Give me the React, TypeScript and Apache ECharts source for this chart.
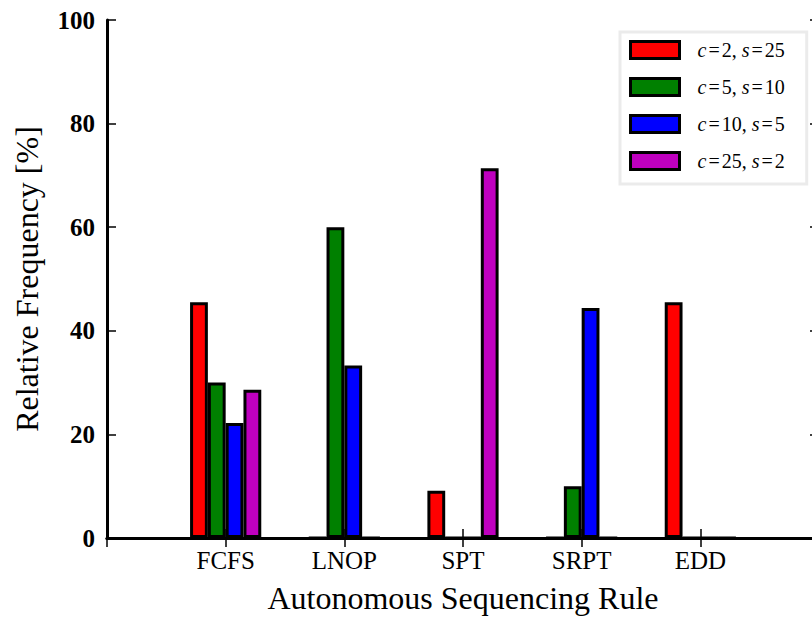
import React, { useEffect, useRef } from "react";
import * as echarts from "echarts";

const categories = ["FCFS", "LNOP", "SPT", "SRPT", "EDD"];
const seriesNames = ["c=2, s=25", "c=5, s=10", "c=10, s=5", "c=25, s=2"];
const redValues = [45.5, 0, 9.1, 0, 45.5];
const greenValues = [30.0, 60.0, 0, 10.0, 0];
const blueValues = [22.2, 33.3, 0, 44.4, 0];
const magentaValues = [28.6, 0, 71.4, 0, 0];
const yTicks = [0, 20, 40, 60, 80, 100];

const colors = ["#ff0000", "#008000", "#0000ff", "#bf00bf"];
const FONT = "'Liberation Serif', 'Times New Roman', serif";

export default function App() {
  const ref = useRef<HTMLDivElement>(null);
  useEffect(() => {
    if (!ref.current) return;
    const chart = echarts.init(ref.current, null, { renderer: "svg" });
    const axisCats = ["", ...categories, ""];
    const allValues = [redValues, greenValues, blueValues, magentaValues];
    const pad = (arr: number[]) => ["-", ...arr, "-"];
    const series = allValues.map((vals, i) => ({
      name: seriesNames[i],
      type: "bar",
      data: pad(vals),
      barWidth: "15%",
      barGap: "0%",
      itemStyle: { color: colors[i], borderColor: "#000", borderWidth: 3 },
      xAxisIndex: 0,
      yAxisIndex: 0,
    }));
    chart.setOption({
      animation: false,
      backgroundColor: "#fff",
      grid: {
        left: 107,
        width: 712,
        top: 20,
        height: 518,
        containLabel: false,
        outerBoundsMode: "none",
      },
      legend: {
        data: seriesNames,
        orient: "vertical",
        left: 620,
        top: 32,
        padding: [8, 22, 13, 9],
        itemGap: 17,
        itemWidth: 49,
        itemHeight: 17,
        icon: "rect",
        backgroundColor: "#fff",
        borderColor: "#ebebeb",
        borderWidth: 3,
        itemStyle: { borderColor: "#000", borderWidth: 3 },
        formatter: (name: string) =>
          name.replace(/([cs])=/g, "{i|$1}{e|=}"),
        textStyle: {
          fontFamily: FONT,
          fontSize: 20,
          color: "#000",
          padding: [0, 0, 0, 13],
          rich: {
            i: { fontFamily: FONT, fontStyle: "italic", fontSize: 20, color: "#000" },
            e: { fontFamily: FONT, fontSize: 20, color: "#000", padding: [0, 2, 0, 2] },
          },
        },
      },
      xAxis: [
        {
          type: "category",
          data: axisCats,
          boundaryGap: false,
          position: "bottom",
          name: "Autonomous Sequencing Rule",
          nameLocation: "middle",
          nameGap: 44,
          nameTextStyle: { fontFamily: FONT, fontSize: 32, color: "#000" },
          axisLine: { lineStyle: { color: "#000", width: 3 } },
          axisTick: { inside: true, length: 9, lineStyle: { color: "#000", width: 1.5 } },
          axisLabel: { fontFamily: FONT, fontSize: 25, color: "#000", margin: 10, interval: 0 },
          splitLine: { show: false },
        },
        {
          type: "category",
          data: axisCats,
          boundaryGap: false,
          position: "top",
          axisLine: { lineStyle: { color: "#000", width: 3 } },
          axisTick: { inside: true, length: 9, lineStyle: { color: "#000", width: 1.5 } },
          axisLabel: { show: false },
          splitLine: { show: false },
        },
      ],
      yAxis: [
        {
          type: "value",
          min: yTicks[0],
          max: yTicks[yTicks.length - 1],
          interval: 20,
          position: "left",
          name: "Relative Frequency [%]",
          nameLocation: "middle",
          nameGap: 64,
          nameTextStyle: { fontFamily: FONT, fontSize: 32, color: "#000" },
          axisLine: { show: true, lineStyle: { color: "#000", width: 3 } },
          axisTick: { show: true, inside: true, length: 9, lineStyle: { color: "#000", width: 1.5 } },
          axisLabel: { fontFamily: FONT, fontSize: 25, fontWeight: "bold", color: "#000", margin: 12 },
          splitLine: { show: false },
        },
        {
          type: "value",
          min: yTicks[0],
          max: yTicks[yTicks.length - 1],
          interval: 20,
          position: "right",
          axisLine: { show: true, lineStyle: { color: "#000", width: 3 } },
          axisTick: { show: true, inside: true, length: 9, lineStyle: { color: "#000", width: 1.5 } },
          axisLabel: { show: false },
          splitLine: { show: false },
        },
      ],
      series,
    });
    return () => chart.dispose();
  }, []);
  return (
    <div
      ref={ref}
      style={{ position: "fixed", left: 0, top: 0, width: 812, height: 619 }}
    />
  );
}
